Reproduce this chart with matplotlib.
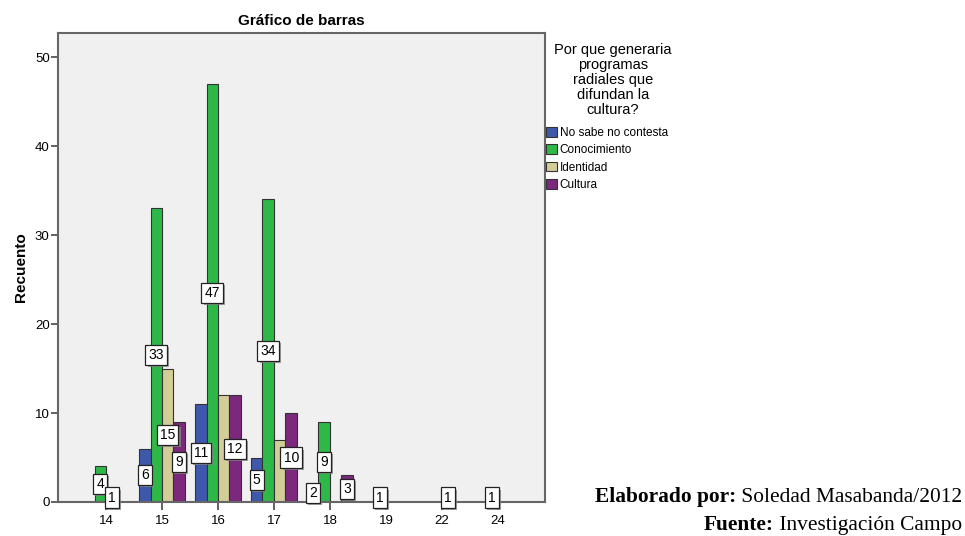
import numpy as np
import matplotlib
matplotlib.use('Agg')
import matplotlib.pyplot as plt
import matplotlib.patheffects as pe

# Datos
edades = ['14', '15', '16', '17', '18', '19', '22', '24']
no_sabe = [0, 6, 11, 5, 2, 0, 0, 0]
conocimiento = [4, 33, 47, 34, 9, 1, 0, 1]
identidad = [1, 15, 12, 7, 0, 0, 1, 0]
cultura = [0, 9, 12, 10, 3, 0, 0, 0]

series = [
    ('No sabe no contesta', no_sabe, '#3E58AC'),
    ('Conocimiento', conocimiento, '#2EB848'),
    ('Identidad', identidad, '#D3CE97'),
    ('Cultura', cultura, '#7C287D'),
]

plt.rcParams['font.family'] = ['Liberation Sans', 'DejaVu Sans']

W, H = 965, 536
fig = plt.figure(figsize=(W / 100, H / 100), dpi=100)
ax = fig.add_axes([58 / W, (H - 502) / H, (545 - 58) / W, (502 - 33) / H])
ax.set_facecolor('#F0F0F0')

x = np.arange(len(edades))
ancho = 0.205
ax.set_xlim(-0.857, 7.84)
ax.set_ylim(0, 52.7)

handles = []
etiquetas = []
for i, (nombre, valores, color) in enumerate(series):
    pos = x + (i - 1.5) * ancho
    vals = np.array(valores)
    mask = vals > 0
    ax.bar(pos[mask], vals[mask], width=ancho, color=color,
           edgecolor='#333333', linewidth=0.8, zorder=2)
    handles.append(plt.Rectangle((0, 0), 1, 1, fc=color, ec='#333333', lw=0.8, label=nombre))
    for p, v in zip(pos[mask], vals[mask]):
        etiquetas.append((i, p, v))

# etiquetas con caja blanca; las que chocan mucho se ocultan (Identidad se revisa al final)
orden = sorted(etiquetas, key=lambda e: (e[0] == 2, e[0]))
fig.canvas.draw()
renderer = fig.canvas.get_renderer()
cajas = []
for i, p, v in orden:
    t = ax.text(p, v / 2, str(v), ha='center', va='center', fontsize=10, zorder=5,
                bbox=dict(boxstyle='square,pad=0.22', fc='white', ec='#222222', lw=0.9))
    t.draw(renderer)
    bb = t.get_bbox_patch().get_window_extent(renderer)
    chica = bb.padded(-2)
    if any(chica.overlaps(c) for c in cajas):
        t.remove()
        continue
    cajas.append(chica)
    t.get_bbox_patch().set_path_effects([
        pe.SimplePatchShadow(offset=(1.5, -1.5), shadow_rgbFace='#888888', alpha=0.8),
        pe.Normal()])

ax.set_xticks(x)
ax.set_xticklabels(edades)
ax.set_yticks([0, 10, 20, 30, 40, 50])
ax.tick_params(axis='y', labelsize=9.5, length=5, width=1.3, color='#555555', pad=1)
ax.tick_params(axis='x', labelsize=9.5, length=6, width=1.3, color='#555555', pad=3)
for s in ax.spines.values():
    s.set_color('#666666')
    s.set_linewidth(1.5)

ax.set_title('Gráfico de barras', fontsize=11, fontweight='bold', pad=6)
ax.set_ylabel('Recuento', fontsize=11, fontweight='bold', labelpad=5)

# Leyenda
fig.text(613 / W, 1 - 43 / H, 'Por que generaria\nprogramas\nradiales que\ndifundan la\ncultura?',
         ha='center', va='top', fontsize=10.5, linespacing=1.1)
fig.legend(handles=handles, loc='upper left', bbox_to_anchor=(546 / W, 1 - 127 / H),
           frameon=False, fontsize=8.5, handlelength=0.9, handleheight=0.9,
           handletextpad=0.25, labelspacing=0.45, borderaxespad=0, borderpad=0)

# Pie de página
def linea_pie(y, negrita, normal):
    t2 = fig.text(962 / W, y, normal, ha='right', va='baseline', fontsize=15.4,
                  family='Liberation Serif')
    fig.canvas.draw()
    bb = t2.get_window_extent()
    fig.text(bb.x0 / W, y, negrita, ha='right', va='baseline', fontsize=15.4,
             family='Liberation Serif', fontweight='bold')

linea_pie(1 - 502 / H, 'Elaborado por:', ' Soledad Masabanda/2012')
linea_pie(1 - 530 / H, 'Fuente:', ' Investigación Campo')

fig.savefig('out.png', dpi=100)
